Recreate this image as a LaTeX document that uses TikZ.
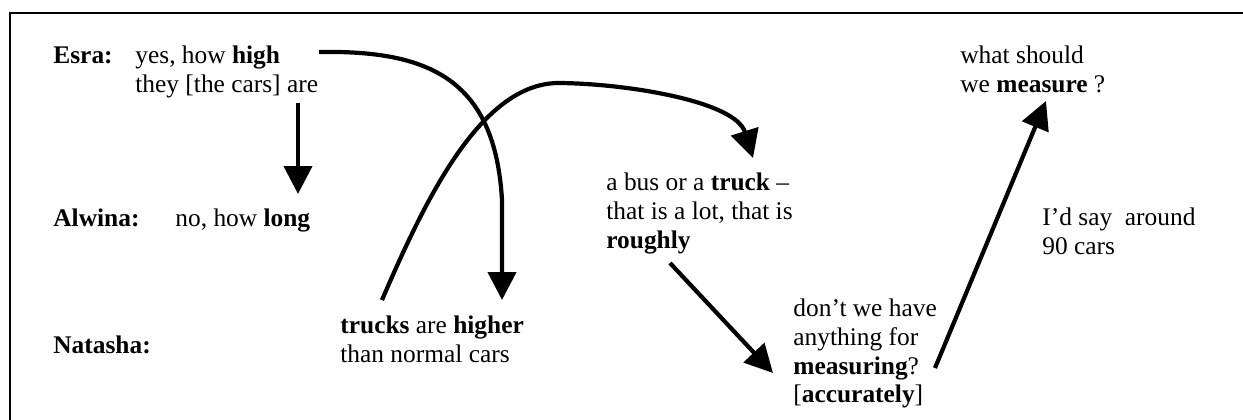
\documentclass[tikz,border=0pt]{standalone}
\usepackage{fontspec}
\setmainfont{Liberation Serif}
\usetikzlibrary{arrows.meta}
\newcommand{\uttfont}{\fontsize{12.7}{14.4}\selectfont}
\tikzset{
  utt/.style={anchor=north west, inner sep=0pt, align=left, font=\uttfont},
  who/.style={utt, font=\uttfont\bfseries},
  link/.style={-{Triangle[length=14pt,width=14pt]}, line width=2.1pt},
  frame/.style={line width=1.4pt},
}

\begin{document}
\begin{tikzpicture}[x=0.5pt,y=-0.5pt]

  \clip (0,0) rectangle (1243,419);
  \draw[frame] (10,13) rectangle (1300,460);

  % Speakers
  \node[who] (esra)    at (53,43)  {\strut Esra:};
  \node[who] (alwina)  at (53,206) {\strut Alwina:};
  \node[who] (natasha) at (53,333) {\strut Natasha:};

  % Utterances
  \node[utt] (high) at (135,43) {\strut yes, how \textbf{high}\\
    they [the cars] are};
  \node[utt] (long) at (175,206) {\strut no, how \textbf{long}};
  \node[utt] (trucks) at (340,313) {\strut\textbf{trucks} are \textbf{higher}\\
    than normal cars};
  \node[utt] (bus) at (606,170) {\strut a bus or a \textbf{truck} --\\
    that is a lot, that is\\
    \textbf{roughly}};
  \node[utt] (tool) at (793,296) {\strut don’t we have\\
    anything for\\
    \textbf{measuring}?\\
    {[}\textbf{accurately}{]}};
  \node[utt] (what) at (960,43) {\strut what should\\
    we \textbf{measure} ?};
  \node[utt] (guess) at (1042,205) {\strut I’d say~ around\\
    90 cars};

  % Arrow ends
  \coordinate (highA) at (298,103);
  \coordinate (longA) at (298,194);
  \coordinate (highB) at (319,52);
  \coordinate (highC) at (502,200);
  \coordinate (trucksB) at (502,300);
  \coordinate (trucksA) at (382,300);
  \coordinate (peak) at (557,83);
  \coordinate (busA) at (753,158);
  \coordinate (busB) at (670,263);
  \coordinate (toolA) at (773,373);
  \coordinate (toolB) at (935,368);
  \coordinate (whatA) at (1046,101);

  % Arrows
  \draw[link] (highA) -- (longA);
  \draw[link] (highB) .. controls (430,50) and (495,80) .. (highC) -- (trucksB);
  \draw[link] (trucksA) .. controls (425,200) and (480,85) .. (peak)
    .. controls (620,83) and (735,100) .. (busA);
  \draw[link] (busB) -- (toolA);
  \draw[link] (toolB) -- (whatA);

\end{tikzpicture}
\end{document}
